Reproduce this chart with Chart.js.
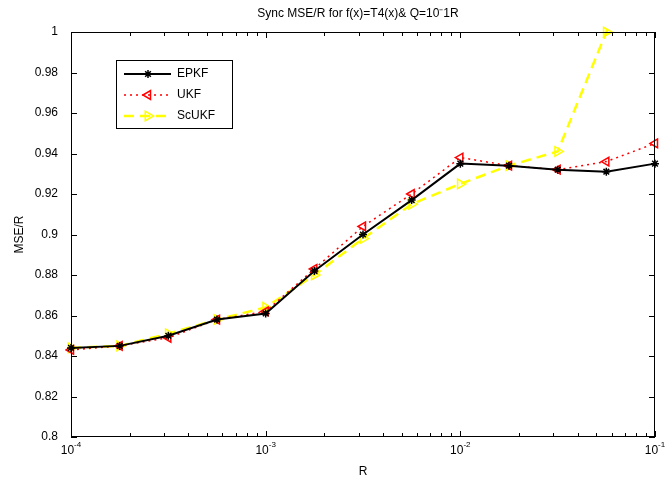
<!DOCTYPE html>
<html>
<head>
<meta charset="utf-8">
<script src="https://cdn.jsdelivr.net/npm/chart.js@4.4.0/dist/chart.umd.min.js"></script>
<style>
  body { margin: 0; background: #fff; }
  #wrap { width: 665px; height: 486px; }
</style>
</head>
<body>
<div id="wrap"><canvas id="chart" width="665" height="486"></canvas></div>
<script>
// R values: quarter decades from 1e-4 to 1e-1
var rValues = [1e-4, 1.778e-4, 3.162e-4, 5.623e-4, 1e-3, 1.778e-3, 3.162e-3,
    5.623e-3, 1e-2, 1.778e-2, 3.162e-2, 5.623e-2, 1e-1];

var epkf  = [0.844, 0.845, 0.850, 0.858, 0.861, 0.882, 0.900, 0.917, 0.935, 0.934, 0.932, 0.931, 0.935];
var ukf   = [0.843, 0.845, 0.849, 0.858, 0.862, 0.883, 0.904, 0.920, 0.938, 0.934, 0.932, 0.936, 0.945];
var scukf = [0.844, 0.845, 0.851, 0.858, 0.864, 0.880, 0.898, 0.915, 0.925, 0.934, 0.941, 1.000, 1.070];

var seriesNames = ['EPKF', 'UKF', 'ScUKF'];
var xTickLabels = ['-4', '-3', '-2', '-1'];
var yTicks = [0.8, 0.82, 0.84, 0.86, 0.88, 0.9, 0.92, 0.94, 0.96, 0.98, 1];

var FONT = '"Liberation Sans", Arial, sans-serif';

function pts(arr) {
    return arr.map(function (v, i) { return {x: rValues[i], y: v}; });
}

var datos = {
    datasets: [{
        label: seriesNames[0],
        data: pts(epkf),
        borderColor: '#000000',
        backgroundColor: '#000000',
        borderWidth: 2,
        pointStyle: 'star',
        pointRadius: 4,
        pointBorderWidth: 1.5,
        clip: 6
    }, {
        label: seriesNames[1],
        data: pts(ukf),
        borderColor: '#FF0000',
        backgroundColor: 'rgba(0,0,0,0)',
        borderWidth: 1.5,
        borderDash: [2, 4],
        pointStyle: 'triangle',
        pointRotation: -90,
        pointRadius: 5,
        pointBorderWidth: 1.5,
        clip: 6
    }, {
        label: seriesNames[2],
        data: pts(scukf),
        borderColor: '#FFFF00',
        backgroundColor: 'rgba(0,0,0,0)',
        borderWidth: 2.5,
        borderDash: [10, 6],
        pointStyle: 'triangle',
        pointRotation: 90,
        pointRadius: 5.5,
        pointBorderWidth: 1.5,
        clip: 6
    }]
};

var matlabLook = {
    id: 'matlabLook',
    afterDraw: function (chart) {
        var ctx = chart.ctx;
        var a = chart.chartArea;
        var xs = chart.scales.x, ys = chart.scales.y;
        ctx.save();
        ctx.strokeStyle = '#000';
        ctx.lineWidth = 1;
        ctx.setLineDash([]);

        // box
        ctx.strokeRect(a.left + 0.5, a.top + 0.5, a.right - a.left - 1, a.bottom - a.top - 1);

        // ticks inside
        ctx.beginPath();
        for (var d = -4; d <= -1; d++) {
            for (var m = 1; m <= 9; m++) {
                var v = m * Math.pow(10, d);
                if (v > 0.1000001) break;
                var px = Math.round(xs.getPixelForValue(v)) + 0.5;
                var len = m === 1 ? 6 : 4;
                ctx.moveTo(px, a.bottom); ctx.lineTo(px, a.bottom - len);
                ctx.moveTo(px, a.top); ctx.lineTo(px, a.top + len);
            }
        }
        yTicks.forEach(function (t) {
            var py = Math.round(ys.getPixelForValue(t)) + 0.5;
            ctx.moveTo(a.left, py); ctx.lineTo(a.left + 6, py);
            ctx.moveTo(a.right, py); ctx.lineTo(a.right - 6, py);
        });
        ctx.stroke();

        // x tick labels 10^n
        ctx.fillStyle = '#000';
        xTickLabels.forEach(function (e) {
            var px = xs.getPixelForValue(Math.pow(10, parseInt(e, 10)));
            ctx.font = '12px ' + FONT;
            var w1 = ctx.measureText('10').width;
            ctx.font = '8px ' + FONT;
            var w2 = ctx.measureText(e).width;
            var x0 = px - (w1 + w2) / 2;
            ctx.textAlign = 'left';
            ctx.textBaseline = 'alphabetic';
            ctx.font = '12px ' + FONT;
            ctx.fillText('10', x0, 454);
            ctx.font = '8px ' + FONT;
            ctx.fillText(e, x0 + w1, 447);
        });

        // axis titles
        ctx.font = '12px ' + FONT;
        ctx.textAlign = 'center';
        ctx.textBaseline = 'middle';
        ctx.fillText('R', (a.left + a.right) / 2, 472);
        ctx.save();
        ctx.translate(20, (a.top + a.bottom) / 2);
        ctx.rotate(-Math.PI / 2);
        ctx.fillText('MSE/R', 0, 0);
        ctx.restore();

        // title
        ctx.fillText('Sync MSE/R for f(x)=T4(x)& Q=10\u207B1R', 358, 14);

        // legend
        var lx = 116, ly = 60, lw = 116, lh = 68;
        ctx.fillStyle = '#fff';
        ctx.fillRect(lx, ly, lw, lh);
        ctx.strokeRect(lx + 0.5, ly + 0.5, lw, lh);
        var rows = [74, 95, 116];
        chart.data.datasets.forEach(function (ds, i) {
            var y = rows[i];
            ctx.save();
            ctx.strokeStyle = ds.borderColor;
            ctx.lineWidth = ds.borderWidth;
            ctx.setLineDash(ds.borderDash || []);
            ctx.beginPath();
            ctx.moveTo(124, y); ctx.lineTo(171, y);
            ctx.stroke();
            ctx.setLineDash([]);
            ctx.fillStyle = ds.backgroundColor;
            ctx.lineWidth = ds.pointBorderWidth;
            Chart.helpers.drawPoint(ctx, {
                pointStyle: ds.pointStyle,
                rotation: ds.pointRotation || 0,
                radius: ds.pointRadius,
                borderWidth: ds.pointBorderWidth
            }, 148, y);
            ctx.restore();
            ctx.fillStyle = '#000';
            ctx.font = '12px ' + FONT;
            ctx.textAlign = 'left';
            ctx.textBaseline = 'middle';
            ctx.fillText(ds.label, 177, y);
        });
        ctx.restore();
    }
};

var canvas = document.getElementById('chart').getContext('2d');
window.grafico = new Chart(canvas, {
    type: 'line',
    data: datos,
    plugins: [matlabLook],
    options: {
        responsive: false,
        animation: false,
        layout: { padding: { left: 0, right: 10, top: 32, bottom: 0 } },
        plugins: {
            legend: { display: false },
            title: { display: false },
            tooltip: { enabled: false }
        },
        scales: {
            x: {
                type: 'logarithmic',
                min: 1e-4,
                max: 1e-1,
                grid: { display: false },
                border: { display: false },
                ticks: { display: false },
                afterFit: function (s) { s.height = 49; }
            },
            y: {
                min: 0.8,
                max: 1,
                grid: { display: false },
                border: { display: false },
                afterBuildTicks: function (s) {
                    s.ticks = yTicks.map(function (v) { return {value: v}; });
                },
                ticks: {
                    color: '#000',
                    padding: 5,
                    font: { family: FONT, size: 12 },
                    callback: function (v) { return String(Math.round(v * 100) / 100); }
                },
                afterFit: function (s) { s.width = 71; }
            }
        }
    }
});
</script>
</body>
</html>
